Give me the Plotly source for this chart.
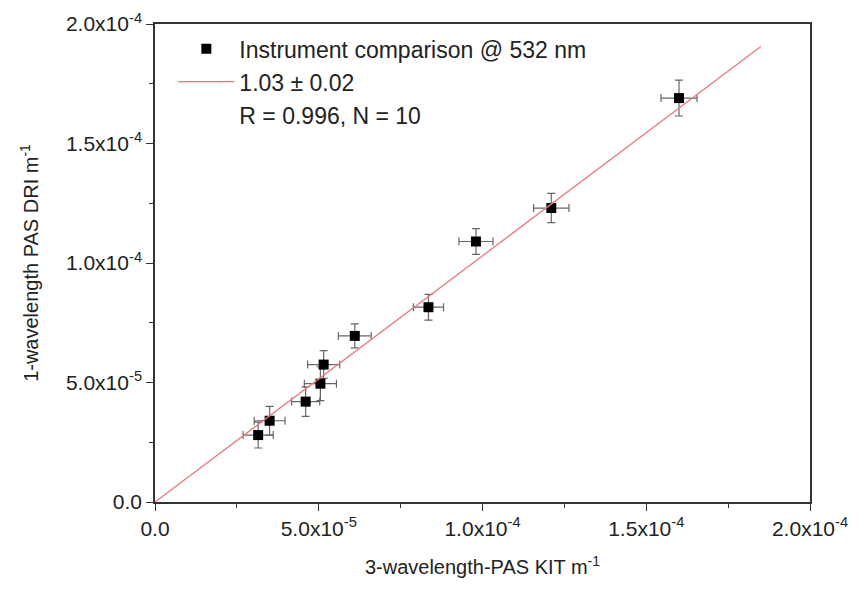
import plotly.graph_objects as go

# Data
kit_x = [3.15e-5, 3.5e-5, 4.6e-5, 5.05e-5, 5.15e-5, 6.1e-5, 8.35e-5, 9.8e-5, 1.21e-4, 1.6e-4]
dri_y = [2.8e-5, 3.4e-5, 4.2e-5, 4.95e-5, 5.75e-5, 6.95e-5, 8.15e-5, 1.09e-4, 1.23e-4, 1.69e-4]
err_x = [4.6e-6, 4.7e-6, 4.3e-6, 4.9e-6, 4.9e-6, 5.0e-6, 4.6e-6, 5.2e-6, 5.4e-6, 5.5e-6]
err_y = [5.4e-6, 6.0e-6, 6.2e-6, 7.1e-6, 5.8e-6, 5.0e-6, 5.4e-6, 5.4e-6, 6.1e-6, 7.5e-6]
fit_slope = 1.03
fit_x = [0.0, 1.85e-4]
fit_y = [fit_slope * v for v in fit_x]

tick_vals = [0, 5e-5, 1e-4, 1.5e-4, 2e-4]
tick_text = ["0.0", "5.0x10<sup>-5</sup>", "1.0x10<sup>-4</sup>", "1.5x10<sup>-4</sup>", "2.0x10<sup>-4</sup>"]

FONT = "Liberation Sans, Arial, sans-serif"

fig = go.Figure()
fig.add_trace(go.Scatter(
    x=kit_x, y=dri_y, mode="markers",
    name="Instrument comparison @ 532 nm",
    marker=dict(symbol="square", size=10, color="black"),
    error_x=dict(type="data", array=err_x, color="#666666", thickness=1.2, width=4),
    error_y=dict(type="data", array=err_y, color="#666666", thickness=1.2, width=4),
))
fig.add_trace(go.Scatter(
    x=fit_x, y=fit_y, mode="lines", name="1.03 ± 0.02",
    line=dict(color="#e87a7a", width=1.3),
))
fig.add_trace(go.Scatter(
    x=[None], y=[None], mode="lines", name="R = 0.996, N = 10",
    line=dict(color="rgba(0,0,0,0)", width=0),
))

axis_common = dict(
    range=[0, 2e-4], tickvals=tick_vals, ticktext=tick_text, automargin=False,
    ticklabeloverflow="allow",
    showgrid=False, zeroline=False, showline=True, linecolor="#333333", linewidth=1.5,
    mirror=True, ticks="outside", ticklen=7, tickwidth=1.3, tickcolor="#333333",
    minor=dict(ticks="outside", ticklen=4, tickwidth=1.2, tickcolor="#333333", dtick=2.5e-5, tick0=0),
    tickfont=dict(family=FONT, size=21, color="#222222"),
)

fig.update_layout(
    width=866, height=592,
    plot_bgcolor="white", paper_bgcolor="white",
    margin=dict(l=147, r=64, t=16, b=98),
    font=dict(family=FONT, color="#222222"),
    xaxis=dict(**axis_common,
               title=dict(text="3-wavelength-PAS KIT m<sup>-1</sup>", font=dict(family=FONT, size=20), standoff=21)),
    yaxis=dict(**axis_common,
               title=dict(text="1-wavelength PAS DRI m<sup>-1</sup>", font=dict(family=FONT, size=20), standoff=22)),
    legend=dict(x=0.028, y=0.993, xanchor="left", yanchor="top",
                font=dict(family=FONT, size=23, color="#222222"),
                bgcolor="rgba(0,0,0,0)", tracegroupgap=0, itemwidth=56),
    showlegend=True,
)

fig.write_html("out.html")
